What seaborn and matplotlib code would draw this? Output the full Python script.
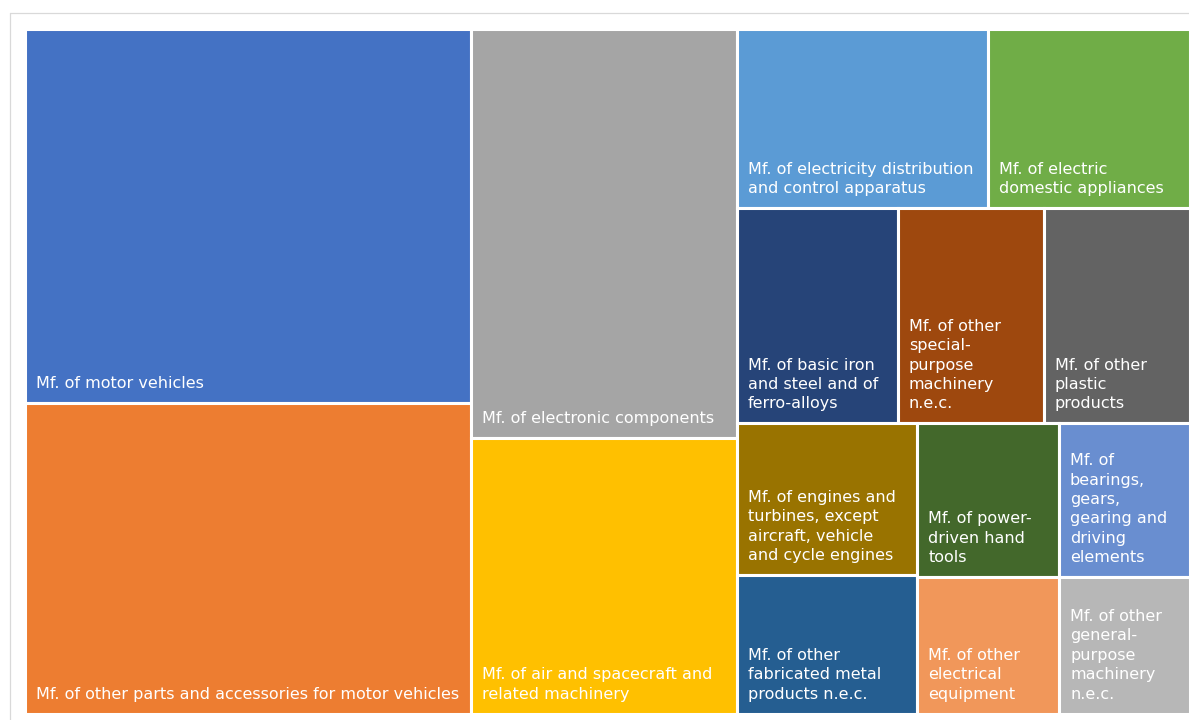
import matplotlib
matplotlib.use("Agg")
import matplotlib.pyplot as plt
import matplotlib.patches as patches
from matplotlib.lines import Line2D
import seaborn as sns

labels = [
    "Mf. of motor vehicles",
    "Mf. of other parts and accessories for motor vehicles",
    "Mf. of electronic components",
    "Mf. of air and spacecraft and\nrelated machinery",
    "Mf. of electricity distribution\nand control apparatus",
    "Mf. of electric\ndomestic appliances",
    "Mf. of basic iron\nand steel and of\nferro-alloys",
    "Mf. of other\nspecial-\npurpose\nmachinery\nn.e.c.",
    "Mf. of other\nplastic\nproducts",
    "Mf. of engines and\nturbines, except\naircraft, vehicle\nand cycle engines",
    "Mf. of other\nfabricated metal\nproducts n.e.c.",
    "Mf. of power-\ndriven hand\ntools",
    "Mf. of\nbearings,\ngears,\ngearing and\ndriving\nelements",
    "Mf. of other\nelectrical\nequipment",
    "Mf. of other\ngeneral-\npurpose\nmachinery\nn.e.c.",
]
shares = [20.8, 17.2, 13.5, 9.1, 5.6, 4.5, 4.3, 3.9, 3.9, 3.4, 3.1, 2.7, 2.5, 2.4, 2.2]
colors = ["#4472C4", "#ED7D31", "#A5A5A5", "#FFC000", "#5B9BD5", "#70AD47",
          "#264478", "#9E480E", "#636363", "#997300", "#255E91", "#43682B",
          "#698ED0", "#F1975A", "#B7B7B7"]


def worst(row, side):
    s = sum(row)
    return max(max(side * side * r / (s * s), s * s / (side * side * r)) for r in row)


def squarify(sizes, x, y, dx, dy):
    # squarified treemap, rows placed from the top-left
    total = sum(sizes)
    sizes = [v * dx * dy / total for v in sizes]
    rects = []
    while sizes:
        side = min(dx, dy)
        row = [sizes[0]]
        i = 1
        while i < len(sizes) and worst(row + [sizes[i]], side) <= worst(row, side):
            row.append(sizes[i])
            i += 1
        sizes = sizes[i:]
        s = sum(row)
        if dx >= dy:
            cw = s / dy
            yy = y + dy
            for r in row:
                h = r / cw
                yy -= h
                rects.append((x, yy, cw, h))
            x += cw
            dx -= cw
        else:
            rh = s / dx
            xx = x
            for r in row:
                w = r / rh
                rects.append((xx, y + dy - rh, w, rh))
                xx += w
            dy -= rh
    return rects


sns.set_style("white")
plt.rcParams["font.family"] = ["DejaVu Sans"]
pal = sns.color_palette(colors)

fig = plt.figure(figsize=(11.89, 7.2), dpi=100)
W, H = 1165.0, 685.0
ax = fig.add_axes([24.5 / 1189, 6.5 / 720, W / 1189, H / 720])
ax.set_xlim(0, W)
ax.set_ylim(0, H)
ax.axis("off")

rects = squarify(shares, 0, 0, W, H)
for (x, y, w, h), lab, c in zip(rects, labels, pal):
    ax.add_patch(patches.Rectangle((x, y), w, h, facecolor=c, edgecolor="white",
                                   linewidth=2.2))
    ax.text(x + 11, y + 15, lab, color="white", fontsize=11.5, ha="left",
            va="baseline", linespacing=1.37)

# light outer frame
fig.add_artist(Line2D([10 / 1189, 10 / 1189], [0, 707 / 720], color="#D9D9D9",
                      lw=0.9, transform=fig.transFigure))
fig.add_artist(Line2D([10 / 1189, 1.01], [707 / 720, 707 / 720], color="#D9D9D9",
                      lw=0.9, transform=fig.transFigure))

fig.savefig("out.png", dpi=100)
